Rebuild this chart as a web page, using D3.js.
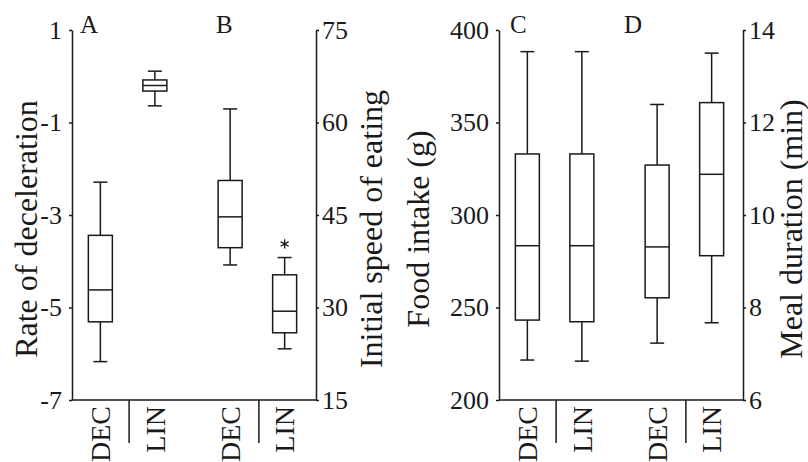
<!DOCTYPE html>
<html>
<head>
<meta charset="utf-8">
<script src="https://cdn.jsdelivr.net/npm/d3@7"></script>
<style>
  body { margin: 0; background: #fff; }
  svg text { font-family: 'Liberation Serif', 'Times New Roman', serif; fill: #1a1a1a; }
</style>
</head>
<body>
<div id="chart"></div>
<script>
// categories
const groups = ['DEC', 'LIN']
const panelsLeft = ['A', 'B']
const panelsRight = ['C', 'D']

// box stats: [min, q1, median, q3, max]
const decelDEC = [-6.17, -5.31, -4.62, -3.44, -2.29]
const decelLIN = [-0.64, -0.32, -0.2, -0.08, 0.11]
const speedDEC = [36.9, 39.7, 44.7, 50.6, 62.2]
const speedLIN = [23.3, 25.9, 29.4, 35.3, 38.1]
const speedLINOutliers = [40.3]
const foodDEC = [221.6, 243.2, 283.4, 333, 388.3]
const foodLIN = [221, 242.3, 283.4, 333, 388.3]
const mealDEC = [7.23, 8.21, 9.31, 11.08, 12.39]
const mealLIN = [7.67, 9.12, 10.88, 12.43, 13.5]

// tick labels
const decelTicks = [1, -1, -3, -5, -7]
const speedTicks = [75, 60, 45, 30, 15]
const foodTicks = [400, 350, 300, 250, 200]
const mealTicks = [14, 12, 10, 8, 6]

const plotTop = 30
const plotBottom = 400
const boxW = 24
const capW = 14
const ink = '#1a1a1a'

const svg = d3.select('#chart')
  .append('svg')
  .attr('width', 808)
  .attr('height', 462)

const xInner = d3.scaleBand().domain(groups).range([-56, 53])

const drawBox = (g, cx, y, s) => {
  g.append('line')
    .attr('x1', cx).attr('x2', cx)
    .attr('y1', y(s[0])).attr('y2', y(s[1]))
  g.append('line')
    .attr('x1', cx).attr('x2', cx)
    .attr('y1', y(s[3])).attr('y2', y(s[4]))
  g.selectAll(null)
    .data([s[0], s[4]])
    .enter().append('line')
    .attr('x1', cx - capW / 2).attr('x2', cx + capW / 2)
    .attr('y1', d => y(d)).attr('y2', d => y(d))
  g.append('rect')
    .attr('x', cx - boxW / 2)
    .attr('y', y(s[3]))
    .attr('width', boxW)
    .attr('height', y(s[1]) - y(s[3]))
    .attr('fill', 'none')
  g.append('line')
    .attr('x1', cx - boxW / 2).attr('x2', cx + boxW / 2)
    .attr('y1', y(s[2])).attr('y2', y(s[2]))
}

const drawPanel = (cfg) => {
  const x = d3.scalePoint().domain(cfg.panels).range(cfg.range).padding(0.44)
  const [x0, x1] = cfg.range
  const g = svg.append('g')
    .attr('stroke', ink)
    .attr('stroke-width', 1.5)

  // left axis
  const leftAxis = d3.axisLeft(cfg.yLeft)
    .tickValues(cfg.ticksLeft)
    .tickFormat(d => String(d))
    .tickSize(3)
    .tickSizeOuter(0)
    .tickPadding(7)
  svg.append('g')
    .attr('transform', `translate(${x0},0)`)
    .call(leftAxis)

  // right axis
  const rightAxis = d3.axisRight(cfg.yRight)
    .tickValues(cfg.ticksRight)
    .tickFormat(d => String(d))
    .tickSize(3)
    .tickSizeOuter(0)
    .tickPadding(3)
  svg.append('g')
    .attr('transform', `translate(${x1},0)`)
    .call(rightAxis)

  // bottom line and group separators
  g.append('line')
    .attr('x1', x0).attr('x2', x1)
    .attr('y1', plotBottom).attr('y2', plotBottom)
  g.selectAll('.sep')
    .data(cfg.panels)
    .enter().append('line')
    .attr('class', 'sep')
    .attr('x1', d => x(d)).attr('x2', d => x(d))
    .attr('y1', plotBottom).attr('y2', plotBottom + 43)

  // boxes
  cfg.panels.forEach((p, i) => {
    const y = i === 0 ? cfg.yLeft : cfg.yRight
    groups.forEach((grp, j) => {
      const cx = x(p) + xInner(grp) + xInner.bandwidth() / 2
      drawBox(g, cx, y, cfg.data[i][j])
    })
  })

  // category labels
  cfg.panels.forEach(p => {
    svg.selectAll(null)
      .data(groups)
      .enter().append('text')
      .attr('transform', d => `translate(${x(p) + xInner(d) + xInner.bandwidth() / 2},${plotBottom + 6}) rotate(-90)`)
      .attr('dy', '0.35em')
      .attr('text-anchor', 'end')
      .style('font-size', '28px')
      .text(d => d)
  })

  // panel letters
  svg.selectAll(null)
    .data(cfg.panels)
    .enter().append('text')
    .attr('x', (d, i) => cfg.letterX[i])
    .attr('y', 33)
    .style('font-size', '25px')
    .text(d => d)

  // axis titles
  svg.selectAll(null)
    .data(cfg.titles)
    .enter().append('text')
    .attr('transform', (d, i) => `translate(${cfg.titleX[i]},229) rotate(-90)`)
    .attr('dy', '0.35em')
    .attr('text-anchor', 'middle')
    .style('font-size', '32px')
    .text(d => d)

  return x
}

const ySpeed = d3.scaleLinear().domain([15, 75]).range([plotBottom, plotTop])

const xLeft = drawPanel({
  panels: panelsLeft,
  range: [72, 316],
  yLeft: d3.scaleLinear().domain([-7, 1]).range([plotBottom, plotTop]),
  yRight: ySpeed,
  ticksLeft: decelTicks,
  ticksRight: speedTicks,
  data: [[decelDEC, decelLIN], [speedDEC, speedLIN]],
  letterX: [80, 216],
  titles: ['Rate of deceleration', 'Initial speed of eating'],
  titleX: [26, 371]
})

drawPanel({
  panels: panelsRight,
  range: [499, 743],
  yLeft: d3.scaleLinear().domain([200, 400]).range([plotBottom, plotTop]),
  yRight: d3.scaleLinear().domain([6, 14]).range([plotBottom, plotTop]),
  ticksLeft: foodTicks,
  ticksRight: mealTicks,
  data: [[foodDEC, foodLIN], [mealDEC, mealLIN]],
  letterX: [510, 624],
  titles: ['Food intake (g)', 'Meal duration (min)'],
  titleX: [418, 791]
})

// outlier star on B / LIN
svg.selectAll('.outlier')
  .data(speedLINOutliers)
  .enter().append('path')
  .attr('class', 'outlier')
  .attr('transform', d => `translate(${xLeft('B') + xInner('LIN') + xInner.bandwidth() / 2},${ySpeed(d)})`)
  .attr('d', d3.symbol(d3.symbolAsterisk || d3.symbolCross, 60))
  .attr('fill', 'none')
  .attr('stroke', ink)
  .attr('stroke-width', 1.3)

svg.selectAll('.domain, .tick line')
  .attr('stroke', ink)
  .attr('stroke-width', 1.5)
svg.selectAll('.tick text')
  .style('font-size', '26px')
  .attr('fill', ink)
</script>
</body>
</html>
